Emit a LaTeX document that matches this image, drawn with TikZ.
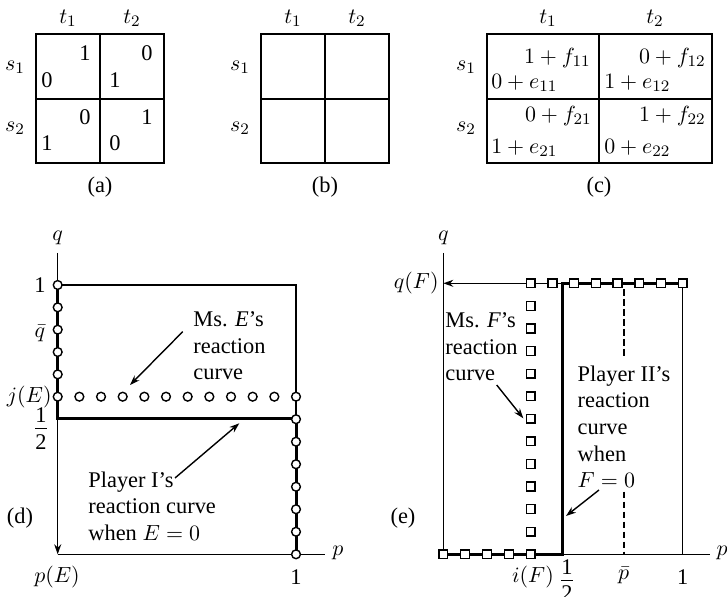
\documentclass[tikz,border=0pt]{standalone}
\usepackage{fontspec}
\setmainfont{Liberation Serif}
\usetikzlibrary{arrows.meta}
\begin{document}
\begin{tikzpicture}[x=0.5pt,y=-0.5pt,
  font=\fontsize{11.2}{13.3}\selectfont,
  thinln/.style={line width=0.7pt},
  thickln/.style={line width=1.5pt},
  gridln/.style={line width=0.9pt},
  circ/.style={circle,draw,fill=white,line width=0.7pt,minimum size=4.4pt,inner sep=0pt},
  sq/.style={rectangle,draw,fill=white,line width=0.7pt,minimum size=4.4pt,inner sep=0pt},
  arr/.style={thinln,-{Stealth[length=5pt,width=3.5pt]}},
  lbl/.style={inner sep=0pt},
  fracbar/.style={line width=0.5pt},
  block/.style={inner sep=0pt,align=left,font=\fontsize{11.2}{13.3}\selectfont},
]
\useasboundingbox (0,0) rectangle (727,597);

% ---------------- (a)
\draw[gridln] (36,34.3) rectangle (164,162.7);
\draw[gridln] (100,34.3) -- (100,162.7);
\draw[gridln] (36,98.7) -- (164,98.7);
\node[lbl] (at1) at (68,18) {$t_1$};
\node[lbl] (at2) at (132,18) {$t_2$};
\node[lbl] (as1) at (15,67) {$s_1$};
\node[lbl] (as2) at (15,128) {$s_2$};
\node[lbl] (a11u) at (85,53) {1};
\node[lbl] (a11l) at (47,80) {0};
\node[lbl] (a12u) at (147,53) {0};
\node[lbl] (a12l) at (115,80) {1};
\node[lbl] (a21u) at (85,117) {0};
\node[lbl] (a21l) at (47,143) {1};
\node[lbl] (a22u) at (147,117) {1};
\node[lbl] (a22l) at (115,143) {0};
\node[lbl] (alab) at (100,187) {(a)};

% ---------------- (b)
\draw[gridln] (261,34.3) rectangle (389.3,162.7);
\draw[gridln] (325,34.3) -- (325,162.7);
\draw[gridln] (261,98.7) -- (389.3,98.7);
\node[lbl] (bt1) at (293,18) {$t_1$};
\node[lbl] (bt2) at (357,18) {$t_2$};
\node[lbl] (bs1) at (240,67) {$s_1$};
\node[lbl] (bs2) at (240,128) {$s_2$};
\node[lbl] (blab) at (325,187) {(b)};

% ---------------- (c)
\draw[gridln] (486.7,34.3) rectangle (711.7,162.7);
\draw[gridln] (599,34.3) -- (599,162.7);
\draw[gridln] (486.7,98.7) -- (711.7,98.7);
\node[lbl] (ct1) at (548,18) {$t_1$};
\node[lbl] (ct2) at (655,18) {$t_2$};
\node[lbl] (cs1) at (466,67) {$s_1$};
\node[lbl] (cs2) at (466,128) {$s_2$};
\node[lbl,anchor=east] (c11u) at (591,58) {$1+f_{11}$};
\node[lbl,anchor=west] (c11l) at (491,83) {$0+e_{11}$};
\node[lbl,anchor=east] (c12u) at (706,58) {$0+f_{12}$};
\node[lbl,anchor=west] (c12l) at (604,83) {$1+e_{12}$};
\node[lbl,anchor=east] (c21u) at (592,116) {$0+f_{21}$};
\node[lbl,anchor=west] (c21l) at (491,148) {$1+e_{21}$};
\node[lbl,anchor=east] (c22u) at (706,116) {$1+f_{22}$};
\node[lbl,anchor=west] (c22l) at (604,148) {$0+e_{22}$};
\node[lbl] (clab) at (599,187) {(c)};

% ---------------- (d)
\coordinate (dO) at (57.7,554.3);
\coordinate (dqtop) at (57.7,253);
\coordinate (dy1) at (57.7,285);
\coordinate (dhalf) at (57.7,419);
\coordinate (dX1) at (296,285);
\coordinate (dX1h) at (296,419);
\coordinate (dX1b) at (296,554.3);
\coordinate (dpend) at (325,554.3);
\draw[thinln] (dqtop) -- (dy1);
\draw[thinln] (dy1) -- (dX1) -- (dX1h);
\draw[thinln] (dO) -- (dpend);
\draw[arr] (dhalf) -- (dO);
\draw[thickln] (dy1) -- (dhalf) -- (dX1h) -- (dX1b);
\foreach \i in {0,...,5} \node[circ] (dcl\i) at (57.7,{285+\i*22.34}) {};
\foreach \i in {1,...,11} \node[circ] (dcr\i) at ({57.7+\i*21.664},396.7) {};
\foreach \i in {1,...,7} \node[circ] (dcv\i) at (296,{396.7+\i*22.514}) {};
\node[lbl] (dq) at (57.7,238) {$q$};
\node[lbl] (d1) at (40,285) {1};
\node[lbl] (dqbar) at (40,333) {$\bar{q}$};
\node[lbl,anchor=east] (djE) at (52,396.7) {$j(E)$};
\node[lbl] (dfn) at (41,415.5) {1};
\node[lbl] (dfd) at (41,442) {2};
\coordinate (dfb1) at (35,429);
\coordinate (dfb2) at (47,429);
\draw[fracbar] (dfb1) -- (dfb2);
\node[lbl] (dlab) at (20,518) {(d)};
\node[lbl] (dpE) at (57,577) {$p(E)$};
\node[lbl] (dp1) at (296,577) {1};
\node[lbl] (dp) at (338,553) {$p$};
\node[block,anchor=west] (dME) at (193,346) {Ms. \textit{E}’s\\reaction\\curve};
\node[block,anchor=west] (dPI) at (88,506) {Player I’s\\reaction curve\\when $E=0$};
\coordinate (dMEs) at (182.7,331.7);
\coordinate (dMEe) at (130,385);
\coordinate (dPIs) at (175,478);
\coordinate (dPIe) at (239.3,423.3);
\draw[arr] (dMEs) -- (dMEe);
\draw[arr] (dPIs) -- (dPIe);

% ---------------- (e)
\coordinate (eO) at (443.3,554.3);
\coordinate (eqtop) at (443.3,253);
\coordinate (eqF) at (443.3,283.3);
\coordinate (eSq) at (530.7,283.3);
\coordinate (eHt) at (562.7,283.3);
\coordinate (eHb) at (562.7,554.3);
\coordinate (eRt) at (682.7,283.3);
\coordinate (eRb) at (682.7,554.3);
\coordinate (epend) at (710,554.3);
\coordinate (eDa) at (624,289);
\coordinate (eDb) at (624,358);
\coordinate (eDc) at (624,491.7);
\coordinate (eDd) at (624,554.3);
\draw[thinln] (eqtop) -- (eO);
\draw[arr] (eSq) -- (eqF);
\draw[thinln] (eSq) -- (eHt);
\draw[thinln] (eHb) -- (epend);
\draw[thinln] (eRt) -- (eRb);
\draw[thinln,dash pattern=on 3.3pt off 1.7pt] (eDa) -- (eDb);
\draw[thinln,dash pattern=on 3.3pt off 1.7pt] (eDc) -- (eDd);
\draw[thickln] (eO) -- (eHb) -- (eHt) -- (eRt);
\foreach \i in {0,...,4} \node[sq] (esb\i) at ({443.3+\i*21.85},554.3) {};
\foreach \i in {1,...,12} \node[sq] (esv\i) at (530.7,{554.3-\i*22.583}) {};
\foreach \i in {1,...,7} \node[sq] (est\i) at ({530.7+\i*21.714},283.3) {};
\node[lbl] (eq) at (443.3,238) {$q$};
\node[lbl,anchor=east] (eqFl) at (439,283.3) {$q(F)$};
\node[lbl] (ep) at (722,553) {$p$};
\node[lbl] (eiF) at (533,577) {$i(F)$};
\node[lbl] (efn) at (567,567) {1};
\node[lbl] (efd) at (567,593) {2};
\coordinate (efb1) at (561,580);
\coordinate (efb2) at (573,580);
\draw[fracbar] (efb1) -- (efb2);
\node[lbl] (epbar) at (623.5,575) {$\bar{p}$};
\node[lbl] (ep1) at (682.7,577) {1};
\node[lbl] (elab) at (403,518) {(e)};
\node[block,anchor=west] (eMF) at (445,346.7) {Ms. \textit{F}’s\\reaction\\curve};
\node[block,anchor=west] (ePII) at (577.3,426.7) {Player II’s\\reaction\\curve\\when\\$F=0$};
\coordinate (eMFs) at (496.7,385);
\coordinate (eMFe) at (523.3,418.3);
\coordinate (ePIIs) at (599,490);
\coordinate (ePIIe) at (566,516);
\draw[arr] (eMFs) -- (eMFe);
\draw[arr] (ePIIs) -- (ePIIe);
\end{tikzpicture}
\end{document}
